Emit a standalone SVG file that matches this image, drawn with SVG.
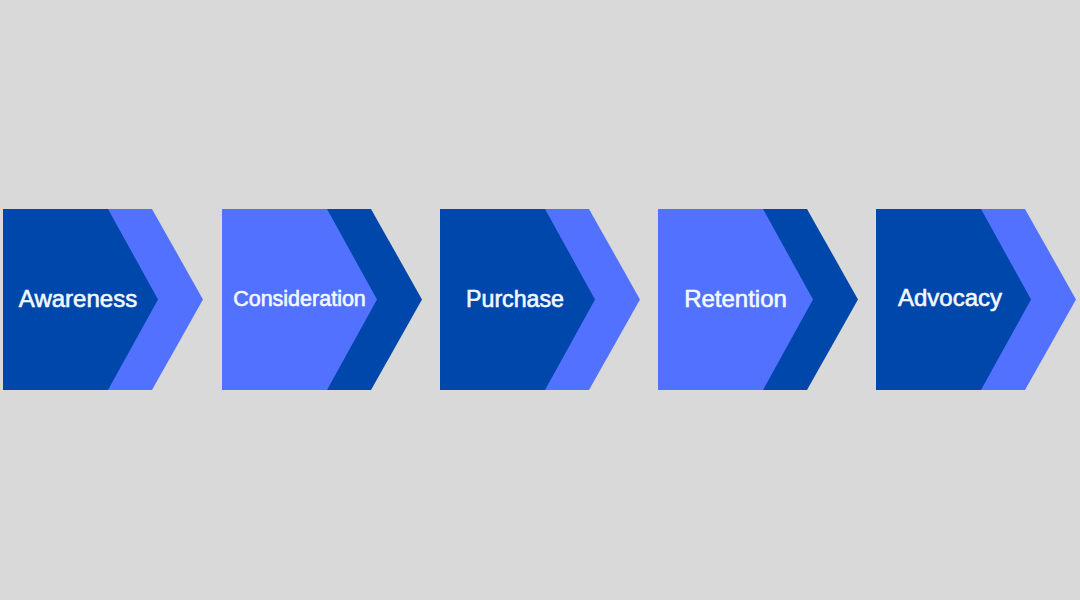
<svg xmlns="http://www.w3.org/2000/svg" xmlns:xlink="http://www.w3.org/1999/xlink" width="1080" height="600" viewBox="0 0 1080 600">
  <style>
    .dark { fill: #0047AB; }
    .light { fill: #5271FF; }
    .label { fill: #F3F8FF; stroke: #F3F8FF; stroke-width: 0.6px; paint-order: stroke; font-family: "Liberation Sans", Arial, sans-serif; font-size: 24px; text-anchor: middle; }
  </style>
  <defs>
    <polygon id="back" points="105,209 149,209 200,299.5 149,390 105,390"/>
    <polygon id="front" points="0,209 105,209 155,299.5 105,390 0,390"/>
  </defs>
  <rect width="1080" height="600" fill="#D9D9D9"/>
  <g id="connectors"></g>
  <g id="awareness" transform="translate(3,0)">
    <use xlink:href="#back" class="light"/>
    <use xlink:href="#front" class="dark"/>
    <text class="label" x="75" y="307">Awareness</text>
  </g>
  <g id="consideration" transform="translate(222,0)">
    <use xlink:href="#back" class="dark"/>
    <use xlink:href="#front" class="light"/>
    <text class="label" x="77.5" y="306" style="font-size:21.5px">Consideration</text>
  </g>
  <g id="purchase" transform="translate(440,0)">
    <use xlink:href="#back" class="light"/>
    <use xlink:href="#front" class="dark"/>
    <text class="label" x="75" y="306.5" style="font-size:23.2px">Purchase</text>
  </g>
  <g id="retention" transform="translate(658,0)">
    <use xlink:href="#back" class="dark"/>
    <use xlink:href="#front" class="light"/>
    <text class="label" x="77.5" y="307">Retention</text>
  </g>
  <g id="advocacy" transform="translate(876,0)">
    <use xlink:href="#back" class="light"/>
    <use xlink:href="#front" class="dark"/>
    <text class="label" x="74" y="306">Advocacy</text>
  </g>
</svg>
